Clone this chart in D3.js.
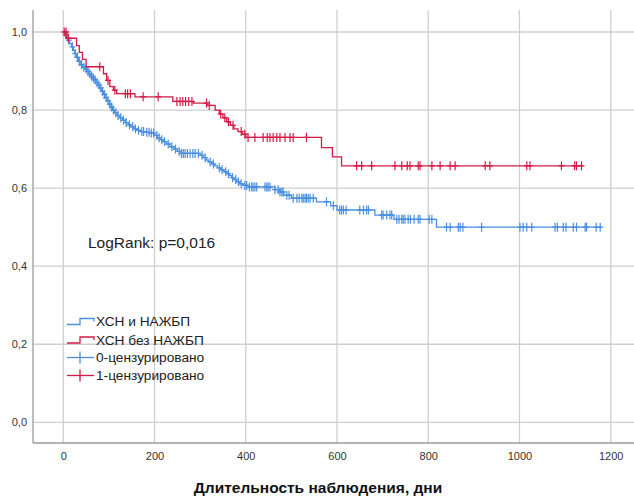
<!DOCTYPE html>
<html>
<head>
<meta charset="utf-8">
<script src="https://cdn.jsdelivr.net/npm/d3@7"></script>
<style>
  html, body { margin: 0; padding: 0; background: #fff; }
  svg { display: block; font-family: "Liberation Sans", Arial, sans-serif; }
</style>
</head>
<body>
<svg id="chart" width="634" height="498"></svg>
<script>
// Kaplan–Meier survival: step times (days) and survival after each step
const blueTimes = [0, 3, 6, 10, 14, 18, 22, 25, 29, 33, 37, 42, 48, 52, 56, 60, 64, 68, 72, 76, 80, 84, 88, 92, 96, 100, 104, 108, 113, 118, 124, 130, 136, 142, 148, 155, 162, 170, 180, 190, 200, 206, 212, 219, 226, 234, 242, 250, 258, 300, 307, 313, 318, 325, 332, 338, 345, 352, 358, 364, 369, 374, 380, 387, 395, 405, 464, 475, 483, 500, 555, 586, 600, 683, 725, 818];
const blueSurv = [1.0, 0.993, 0.986, 0.979, 0.970, 0.962, 0.953, 0.945, 0.935, 0.925, 0.916, 0.910, 0.905, 0.899, 0.893, 0.887, 0.882, 0.877, 0.870, 0.864, 0.857, 0.848, 0.840, 0.832, 0.824, 0.815, 0.808, 0.800, 0.793, 0.786, 0.780, 0.774, 0.768, 0.762, 0.757, 0.752, 0.748, 0.745, 0.743, 0.741, 0.735, 0.729, 0.724, 0.719, 0.713, 0.706, 0.700, 0.694, 0.689, 0.684, 0.678, 0.672, 0.667, 0.662, 0.657, 0.652, 0.647, 0.642, 0.637, 0.632, 0.627, 0.622, 0.616, 0.611, 0.607, 0.603, 0.596, 0.590, 0.582, 0.574, 0.565, 0.555, 0.544, 0.531, 0.520, 0.500];
const blueCensored = [5, 12, 20, 26, 31, 35, 40, 45, 50, 54, 58, 62, 66, 70, 74, 78, 82, 86, 90, 94, 98, 102, 106, 110, 115, 120, 126, 132, 138, 145, 152, 158, 165, 172, 176, 183, 188, 193, 198, 205, 210, 216, 222, 230, 238, 246, 254, 259, 263, 267, 272, 278, 284, 289, 296, 304, 311, 322, 329, 342, 348, 356, 362, 371, 378, 384, 390, 398, 402, 408, 413, 416, 420, 424, 442, 446, 449, 453, 464, 471, 475, 479, 482, 490, 495, 504, 512, 517, 523, 526, 530, 533, 537, 541, 548, 577, 592, 606, 610, 614, 620, 650, 658, 665, 669, 698, 701, 709, 716, 720, 731, 736, 742, 745, 749, 756, 761, 769, 778, 782, 802, 808, 840, 848, 866, 870, 876, 917, 1001, 1008, 1016, 1027, 1078, 1083, 1096, 1102, 1118, 1125, 1144, 1147, 1168, 1177];
const blueLastDay = 1180;

const redTimes = [0, 8, 29, 35, 42, 50, 88, 95, 102, 110, 117, 157, 240, 285, 315, 333, 342, 350, 358, 366, 374, 383, 392, 400, 566, 590, 610];
const redSurv = [1.0, 0.984, 0.965, 0.948, 0.930, 0.911, 0.893, 0.876, 0.860, 0.851, 0.842, 0.834, 0.822, 0.818, 0.812, 0.800, 0.790, 0.780, 0.770, 0.761, 0.752, 0.745, 0.738, 0.730, 0.704, 0.680, 0.657];
const redCensored = [2, 6, 11, 80, 98, 113, 136, 141, 147, 175, 208, 249, 256, 262, 268, 275, 282, 314, 320, 345, 354, 362, 372, 390, 398, 405, 420, 438, 447, 453, 460, 468, 475, 486, 497, 504, 533, 643, 654, 676, 727, 742, 754, 760, 778, 782, 808, 826, 848, 859, 925, 935, 1016, 1023, 1092, 1121, 1125, 1136];
const redLastDay = 1140;

const xTicks = [0, 200, 400, 600, 800, 1000, 1200];
const yTicks = [0, 0.2, 0.4, 0.6, 0.8, 1.0];
const groupNames = ["ХСН и НАЖБП", "ХСН без НАЖБП"];
const censorNames = ["0-цензурировано", "1-цензурировано"];
const statLabel = "LogRank: p=0,016";
const xTitle = "Длительность наблюдения, дни";

const BLUE = "#4a8fe0";
const RED = "#d41a44";

const svg = d3.select("#chart");
const frame = { left: 33, top: 10, right: 634, bottom: 443 };

const x = d3.scaleLinear().domain([0, 1200]).range([63.3, 610.7]);
const y = d3.scaleLinear().domain([0, 1]).range([422.3, 32]);

// grid
const grid = svg.append("g");
grid.selectAll("line.vg").data(xTicks).join("line")
  .attr("x1", d => x(d)).attr("x2", d => x(d))
  .attr("y1", frame.top).attr("y2", frame.bottom)
  .attr("stroke", "#cfcfcf").attr("stroke-width", 1.3);
grid.selectAll("line.hg").data(yTicks).join("line")
  .attr("x1", frame.left).attr("x2", frame.right)
  .attr("y1", d => y(d)).attr("y2", d => y(d))
  .attr("stroke", "#cfcfcf").attr("stroke-width", 1.3);

// axes (no tick marks, only frame lines and labels)
const xAxis = d3.axisBottom(x).tickValues(xTicks).tickSize(0).tickPadding(9).tickFormat(d3.format("d"));
const gx = svg.append("g").attr("transform", `translate(0,${frame.bottom})`).call(xAxis);
gx.select(".domain").remove();
gx.selectAll("text").attr("font-size", 11).attr("fill", "#333").attr("font-family", "Liberation Sans, Arial, sans-serif");

const commaFmt = d => d3.format(".1f")(d).replace(".", ",");
const yAxis = d3.axisLeft(y).tickValues(yTicks).tickSize(0).tickPadding(6).tickFormat(commaFmt);
const gy = svg.append("g").attr("transform", `translate(${frame.left},0)`).call(yAxis);
gy.select(".domain").remove();
gy.selectAll("text").attr("font-size", 11).attr("fill", "#333").attr("font-family", "Liberation Sans, Arial, sans-serif");

svg.append("line").attr("x1", frame.left).attr("x2", frame.left)
  .attr("y1", frame.top).attr("y2", frame.bottom).attr("stroke", "#9a9a9a").attr("stroke-width", 1.3);
svg.append("line").attr("x1", frame.left).attr("x2", frame.right)
  .attr("y1", frame.bottom).attr("y2", frame.bottom).attr("stroke", "#9a9a9a").attr("stroke-width", 1.3);

// survival curves
function survAt(times, surv, t) {
  const i = Math.max(0, d3.bisectRight(times, t) - 1);
  return surv[i];
}
const stepLine = d3.line().x(d => x(d[0])).y(d => y(d[1])).curve(d3.curveStepAfter);

function drawGroup(times, surv, censored, lastDay, color) {
  const pts = times.map((t, i) => [t, surv[i]]);
  pts.push([lastDay, surv[surv.length - 1]]);
  svg.append("path").datum(pts).attr("d", stepLine)
    .attr("fill", "none").attr("stroke", color).attr("stroke-width", 1.3);
  const g = svg.append("g").attr("stroke", color).attr("stroke-width", 1.2);
  censored.forEach(t => {
    const cx = x(t), cy = y(survAt(times, surv, t));
    g.append("line").attr("x1", cx).attr("x2", cx).attr("y1", cy - 4.5).attr("y2", cy + 4.5);
    g.append("line").attr("x1", cx - 3).attr("x2", cx + 3).attr("y1", cy).attr("y2", cy);
  });
}
drawGroup(blueTimes, blueSurv, blueCensored, blueLastDay, BLUE);
drawGroup(redTimes, redSurv, redCensored, redLastDay, RED);

// statistic label
svg.append("text").attr("x", 88).attr("y", 248).attr("font-size", 15.5).attr("fill", "#222").text(statLabel);

// legend
const lg = svg.append("g").attr("transform", "translate(67,0)");
const rowsY = [321.5, 340, 357.5, 375.5];
[BLUE, RED].forEach((c, i) => {
  const cy = rowsY[i];
  lg.append("path").attr("d", `M0,${cy + 3}H13V${cy - 3}H27V${cy}`)
    .attr("fill", "none").attr("stroke", c).attr("stroke-width", 1.3);
  lg.append("text").attr("x", 29).attr("y", cy).attr("dy", "0.35em")
    .attr("font-size", 13.7).attr("fill", "#222").text(groupNames[i]);
});
[BLUE, RED].forEach((c, i) => {
  const cy = rowsY[i + 2];
  lg.append("line").attr("x1", 0).attr("x2", 27).attr("y1", cy).attr("y2", cy).attr("stroke", c).attr("stroke-width", 1.3);
  lg.append("line").attr("x1", 13).attr("x2", 13).attr("y1", cy - 6).attr("y2", cy + 6).attr("stroke", c).attr("stroke-width", 1.3);
  lg.append("text").attr("x", 29).attr("y", cy).attr("dy", "0.35em")
    .attr("font-size", 13.7).attr("fill", "#222").text(censorNames[i]);
});

// x-axis title
svg.append("text").attr("x", 318).attr("y", 493).attr("text-anchor", "middle")
  .attr("font-size", 15.5).attr("font-weight", "bold").attr("fill", "#111").text(xTitle);
</script>
</body>
</html>
